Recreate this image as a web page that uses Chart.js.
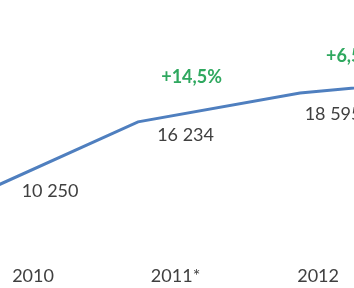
<!DOCTYPE html>
<html>
<head>
<meta charset="utf-8">
<script src="https://cdn.jsdelivr.net/npm/chart.js@4"></script>
<style>
  html, body { margin: 0; padding: 0; background: #ffffff; }
  #wrap { width: 354px; height: 288px; position: relative; }
</style>
</head>
<body>
<div id="wrap"><canvas id="c"></canvas></div>
<script>
// ---- data ----
const years = [2010, 2011, 2012, 2013];
const yearLabels = ['2010', '2011*', '2012', '2013'];
const values = [10250, 16234, 18595, 19804];
const valueLabels = ['10 250', '16 234', '18 595', '19 804'];
const growthLabels = ['', '+14,5%', '+6,5%', ''];

// ---- label nudges (layout only) ----
const valueNudge = [[17, -4], [10, 13], [15, 21], [15, 21]];
const growthNudge = [[0, 0], [16, -45], [33, -37], [0, 0]];

const textColor = '#404040';
const greenColor = '#2fa85f';
const lineColor = '#4f7fbf';

const labelPlugin = {
  id: 'labels',
  afterDatasetsDraw(chart) {
    const ctx = chart.ctx;
    const xt = chart.scales.xt;
    const y = chart.scales.y;
    ctx.save();
    ctx.textAlign = 'center';
    ctx.textBaseline = 'middle';
    for (let i = 0; i < years.length; i++) {
      const px = xt.getPixelForValue(years[i]);
      const py = y.getPixelForValue(values[i]);
      ctx.font = '18px Lato';
      ctx.fillStyle = textColor;
      ctx.fillText(valueLabels[i], px + valueNudge[i][0], py + valueNudge[i][1]);
      if (growthLabels[i]) {
        ctx.font = 'bold 18px Lato';
        ctx.fillStyle = greenColor;
        ctx.fillText(growthLabels[i], px + growthNudge[i][0], py + growthNudge[i][1]);
      }
    }
    ctx.restore();
  }
};

new Chart(document.getElementById('c'), {
  type: 'line',
  data: {
    datasets: [{
      data: years.map((yr, i) => ({ x: yr, y: values[i] })),
      borderColor: lineColor,
      borderWidth: 3,
      pointRadius: 0,
      tension: 0,
      fill: false
    }]
  },
  options: {
    responsive: true,
    maintainAspectRatio: false,
    animation: false,
    devicePixelRatio: 1,
    layout: { padding: { left: 0, right: 0, top: 0, bottom: 1 } },
    plugins: { legend: { display: false }, tooltip: { enabled: false } },
    scales: {
      x: {
        type: 'linear',
        display: false,
        min: 2010.148,
        max: 2012.333
      },
      xt: {
        type: 'linear',
        position: 'bottom',
        min: 2009.768,
        max: 2012.252,
        grid: { display: false, drawTicks: false },
        border: { display: false },
        ticks: {
          stepSize: 1,
          includeBounds: false,
          autoSkip: false,
          maxRotation: 0,
          padding: 0,
          color: textColor,
          font: { family: 'Lato', size: 18 },
          callback: (v) => {
            const i = years.indexOf(v);
            return i >= 0 ? yearLabels[i] : '';
          }
        }
      },
      y: {
        type: 'linear',
        display: false,
        min: 4500,
        max: 26200
      }
    }
  },
  plugins: [labelPlugin]
});
</script>
</body>
</html>
